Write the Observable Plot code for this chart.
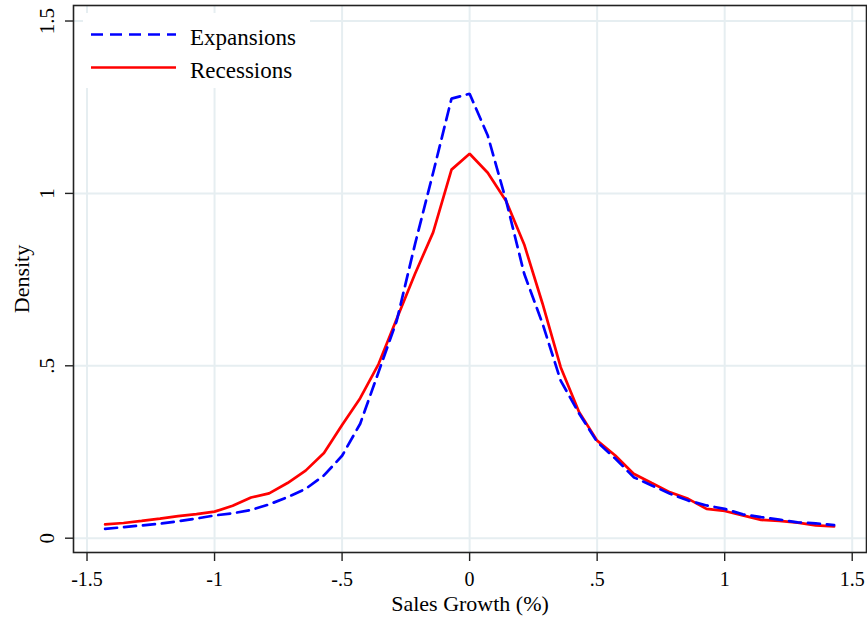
<!DOCTYPE html>
<html>
<head>
<meta charset="utf-8">
<script src="https://cdn.jsdelivr.net/npm/d3@7"></script>
<script src="https://cdn.jsdelivr.net/npm/@observablehq/plot@0.6"></script>
<style>
  html, body { margin: 0; padding: 0; background: white; }
  #wrap { position: relative; width: 867px; height: 617px; font-family: "Liberation Serif", "Times New Roman", serif; }
  #legend { position: absolute; left: 83px; top: 13px; width: 227px; height: 75px; background: white; }
  #legend svg { display: block; }
</style>
</head>
<body>
<div id="wrap">
  <div id="chart"></div>
  <div id="legend"></div>
</div>
<script>
// ---- data ----
const xGrid = [-1.429, -1.357, -1.286, -1.214, -1.143, -1.071, -1.0, -0.929, -0.857, -0.786,
  -0.714, -0.643, -0.571, -0.5, -0.429, -0.357, -0.286, -0.214, -0.143, -0.071, 0,
  0.071, 0.143, 0.214, 0.286, 0.357, 0.429, 0.5, 0.571, 0.643, 0.714, 0.786, 0.857,
  0.929, 1.0, 1.071, 1.143, 1.214, 1.286, 1.357, 1.429];
const expansions = [0.027, 0.032, 0.037, 0.042, 0.049, 0.057, 0.066, 0.072, 0.082, 0.098,
  0.119, 0.143, 0.182, 0.239, 0.332, 0.482, 0.630, 0.853, 1.060, 1.275, 1.289,
  1.168, 0.979, 0.767, 0.622, 0.457, 0.362, 0.279, 0.231, 0.177, 0.153, 0.129, 0.109,
  0.095, 0.085, 0.069, 0.061, 0.054, 0.046, 0.043, 0.038];
const recessions = [0.040, 0.044, 0.050, 0.057, 0.064, 0.070, 0.077, 0.094, 0.118, 0.130,
  0.160, 0.196, 0.247, 0.328, 0.406, 0.505, 0.636, 0.767, 0.887, 1.069, 1.115,
  1.060, 0.978, 0.852, 0.680, 0.496, 0.366, 0.283, 0.240, 0.187, 0.160, 0.133, 0.114,
  0.085, 0.079, 0.066, 0.053, 0.050, 0.045, 0.037, 0.034];
const seriesNames = ["Expansions", "Recessions"];
const xTicks = [-1.5, -1, -0.5, 0, 0.5, 1, 1.5];
const xTickLabels = ["-1.5", "-1", "-.5", "0", ".5", "1", "1.5"];
const yTicks = [0, 0.5, 1, 1.5];
const yTickLabels = ["0", ".5", "1", "1.5"];
const xTitle = "Sales Growth (%)";
const yTitle = "Density";

// ---- table ----
const rowsE = xGrid.map((x, i) => ({x, y: expansions[i], s: seriesNames[0]}));
const rowsR = xGrid.map((x, i) => ({x, y: recessions[i], s: seriesNames[1]}));

const gridColor = "#e6eef1";
const font = "'Liberation Serif', 'Times New Roman', serif";

const chart = Plot.plot({
  width: 867,
  height: 617,
  marginLeft: 73,
  marginRight: 1,
  marginTop: 5,
  marginBottom: 65,
  style: {fontFamily: font, fontSize: "20px", background: "white", color: "black"},
  x: {domain: [-1.553, 1.556]},
  y: {domain: [-0.0415, 1.545]},
  marks: [
    Plot.gridX(xTicks, {stroke: gridColor, strokeOpacity: 1, strokeWidth: 2}),
    Plot.gridY(yTicks, {stroke: gridColor, strokeOpacity: 1, strokeWidth: 2}),
    Plot.line(rowsR, {x: "x", y: "y", stroke: "#ff0000", strokeWidth: 2.7, strokeLinejoin: "miter"}),
    Plot.line(rowsE, {x: "x", y: "y", stroke: "#0000ff", strokeWidth: 2.7, strokeDasharray: "12,7", strokeLinejoin: "miter"}),
    Plot.frame({stroke: "#222", strokeWidth: 1.6}),
    Plot.axisX(xTicks, {
      tickSize: 9, tickPadding: 10, stroke: "#222", strokeWidth: 1.4,
      tickFormat: d => xTickLabels[xTicks.indexOf(d)], label: null, fontSize: 20
    }),
    Plot.axisY(yTicks, {
      tickSize: 8, tickPadding: 12, tickRotate: -90, stroke: "#222", strokeWidth: 1.4,
      tickFormat: d => yTickLabels[yTicks.indexOf(d)], label: null, fontSize: 21
    }),
    Plot.text([xTitle], {text: d => d, frameAnchor: "bottom", dy: 58, lineAnchor: "bottom", fontSize: 22}),
    Plot.text([yTitle], {text: d => d, frameAnchor: "left", dx: -45, rotate: -90, lineAnchor: "bottom", textAnchor: "middle", fontSize: 22})
  ]
});
document.getElementById("chart").appendChild(chart);

// ---- legend (HTML overlay) ----
const legendItems = [
  {name: seriesNames[0], color: "#0000ff", dash: "12,7"},
  {name: seriesNames[1], color: "#ff0000", dash: null}
];
const lg = d3.select("#legend").append("svg").attr("width", 227).attr("height", 75);
legendItems.forEach((it, i) => {
  const cy = 21.5 + i * 33;
  const line = lg.append("line").attr("x1", 8).attr("x2", 93).attr("y1", cy).attr("y2", cy)
    .attr("stroke", it.color).attr("stroke-width", 2.7);
  if (it.dash) line.attr("stroke-dasharray", it.dash);
  lg.append("text").attr("x", 107).attr("y", cy + 10.5)
    .attr("font-family", font).attr("font-size", 23).attr("fill", "black").text(it.name);
});
</script>
</body>
</html>
